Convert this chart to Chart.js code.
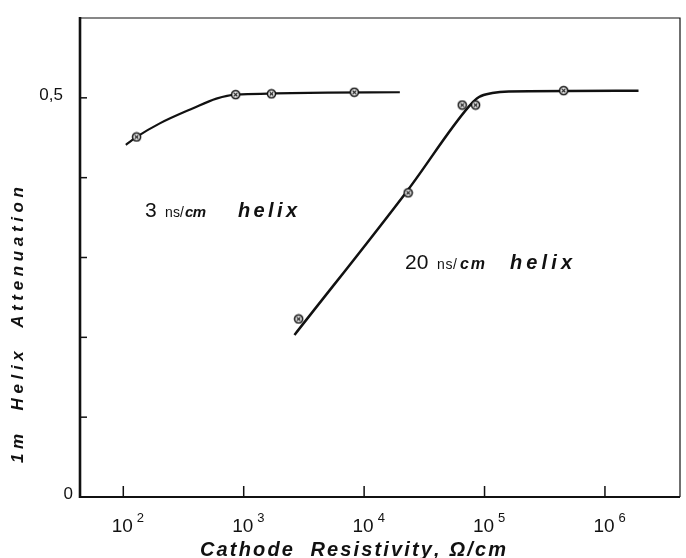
<!DOCTYPE html>
<html>
<head>
<meta charset="utf-8">
<script src="https://cdn.jsdelivr.net/npm/chart.js@4/dist/chart.umd.min.js"></script>
<style>
  html, body { margin: 0; padding: 0; background: #fff; }
  #wrap { width: 686px; height: 558px; }
</style>
</head>
<body>
<div id="wrap"><canvas id="chart" width="686" height="558"></canvas></div>
<script>
// ── ค่าแกน ──
var decades   = [1e2, 1e3, 1e4, 1e5, 1e6];
var decadeExp = ["2", "3", "4", "5", "6"];
var yTickVals = [0.1, 0.2, 0.3, 0.4, 0.5];
var yLabelVals = [0, 0.5];
var yLabelText = ["0", "0,5"];

// ── 3 ns/cm helix ──
var h3X    = [129, 857, 1700, 8280];
var h3Y    = [0.451, 0.504, 0.505, 0.507];
var h3FitX = [105, 129, 201, 380, 593, 857, 19800];
var h3FitY = [0.441, 0.451, 0.468, 0.487, 0.499, 0.504, 0.507];

// ── 20 ns/cm helix ──
var h20X    = [2860, 23200, 65300, 84300, 454000];
var h20Y    = [0.223, 0.381, 0.491, 0.491, 0.509];
var h20FitX = [2640, 23200, 74000, 90000, 116000, 159000, 1900000];
var h20FitY = [0.203, 0.385, 0.489, 0.501, 0.506, 0.508, 0.509];

function pts(xs, ys) {
  return xs.map(function(x, i) { return { x: x, y: ys[i] }; });
}

function makeMarker() {
  var c = document.createElement("canvas");
  c.width = 11; c.height = 11;
  var g = c.getContext("2d");
  g.fillStyle = "#fff"; g.strokeStyle = "#111"; g.lineWidth = 1.6;
  g.beginPath(); g.arc(5.5, 5.5, 4, 0, Math.PI * 2); g.fill(); g.stroke();
  g.lineWidth = 1.2;
  g.beginPath();
  g.moveTo(3.6, 3.6); g.lineTo(7.4, 7.4);
  g.moveTo(7.4, 3.6); g.lineTo(3.6, 7.4);
  g.stroke();
  return c;
}
var marker = makeMarker();

// เขียนข้อความโดยกระจายช่องไฟให้ได้ความกว้างที่ต้องการ
function spacedText(ctx, text, x, y, width) {
  var chars = text.split("");
  var natural = chars.reduce(function(s, ch) { return s + ctx.measureText(ch).width; }, 0);
  var gap = chars.length > 1 ? (width - natural) / (chars.length - 1) : 0;
  var cx = x;
  ctx.textAlign = "left";
  chars.forEach(function(ch) {
    ctx.fillText(ch, cx, y);
    cx += ctx.measureText(ch).width + gap;
  });
}

var SANS = '"Liberation Sans", Arial, sans-serif';

var labels = [
  { y: 217, parts: [
    { t: "3",     f: "21px " + SANS,             x: 145, w: 0 },
    { t: "ns/",   f: "14px " + SANS,             x: 165, w: 19 },
    { t: "cm",    f: "italic bold 15px " + SANS, x: 185, w: 21 },
    { t: "helix", f: "italic bold 20px " + SANS, x: 238, w: 59 }
  ]},
  { y: 269, parts: [
    { t: "20",    f: "21px " + SANS,             x: 405, w: 0 },
    { t: "ns/",   f: "14px " + SANS,             x: 437, w: 20 },
    { t: "cm",    f: "italic bold 16px " + SANS, x: 460, w: 25 },
    { t: "helix", f: "italic bold 20px " + SANS, x: 510, w: 62 }
  ]}
];

var paperPlugin = {
  id: "paper",
  afterDraw: function(chart) {
    var ctx = chart.ctx, a = chart.chartArea;
    var xs = chart.scales.x, ys = chart.scales.y;
    ctx.save();
    ctx.strokeStyle = "#111";
    ctx.fillStyle = "#111";
    ctx.lineCap = "butt";

    // กรอบ
    ctx.lineWidth = 1.2;
    ctx.beginPath();
    ctx.moveTo(a.left, a.top); ctx.lineTo(a.right, a.top); ctx.lineTo(a.right, a.bottom);
    ctx.stroke();
    ctx.lineWidth = 2.6;
    ctx.beginPath(); ctx.moveTo(a.left, a.top - 1); ctx.lineTo(a.left, a.bottom + 1); ctx.stroke();
    ctx.lineWidth = 2;
    ctx.beginPath(); ctx.moveTo(a.left, a.bottom); ctx.lineTo(a.right, a.bottom); ctx.stroke();

    // ขีดแกน y (ด้านใน)
    ctx.lineWidth = 1.5;
    yTickVals.forEach(function(v) {
      var py = ys.getPixelForValue(v);
      ctx.beginPath(); ctx.moveTo(a.left, py); ctx.lineTo(a.left + 7, py); ctx.stroke();
    });
    // ขีดแกน x (ด้านใน)
    decades.forEach(function(v) {
      var px = xs.getPixelForValue(v);
      ctx.beginPath(); ctx.moveTo(px, a.bottom); ctx.lineTo(px, a.bottom - 11); ctx.stroke();
    });

    // ป้ายแกน y
    ctx.textBaseline = "alphabetic";
    ctx.font = "17px " + SANS;
    ctx.textAlign = "right";
    yLabelVals.forEach(function(v, i) {
      var py = ys.getPixelForValue(v);
      var right = v === 0 ? 73 : 63;
      ctx.fillText(yLabelText[i], right, py + 2);
    });

    // ป้ายแกน x : 10^n
    decades.forEach(function(v, i) {
      var px = xs.getPixelForValue(v);
      ctx.font = "19px " + SANS;
      ctx.textAlign = "center";
      ctx.fillText("10", px - 1, 532);
      var w = ctx.measureText("10").width;
      ctx.font = "13px " + SANS;
      ctx.textAlign = "left";
      ctx.fillText(decadeExp[i], px - 1 + w / 2 + 4, 522);
    });

    // ชื่อแกน x
    ctx.font = "italic bold 20px " + SANS;
    spacedText(ctx, "Cathode  Resistivity, \u03A9/cm", 200, 556, 306);

    // ชื่อแกน y
    ctx.save();
    ctx.translate(23, 325);
    ctx.rotate(-Math.PI / 2);
    ctx.font = "italic bold 17px " + SANS;
    spacedText(ctx, "1m  Helix  Attenuation", -138, 0, 276);
    ctx.restore();

    // ป้ายเส้นกราฟ
    labels.forEach(function(l) {
      l.parts.forEach(function(p) {
        ctx.font = p.f;
        if (p.w) spacedText(ctx, p.t, p.x, l.y, p.w);
        else { ctx.textAlign = "left"; ctx.fillText(p.t, p.x, l.y); }
      });
    });
    ctx.restore();
  }
};

new Chart(document.getElementById("chart").getContext("2d"), {
  type: "scatter",
  data: {
    datasets: [
      { label: "3 ns/cm pts", data: pts(h3X, h3Y), showLine: false,
        pointStyle: marker, pointRadius: 5, pointHoverRadius: 5 },
      { label: "20 ns/cm pts", data: pts(h20X, h20Y), showLine: false,
        pointStyle: marker, pointRadius: 5, pointHoverRadius: 5 },
      { label: "3 ns/cm", data: pts(h3FitX, h3FitY), showLine: true,
        borderColor: "#111", borderWidth: 2.2, pointRadius: 0,
        cubicInterpolationMode: "monotone" },
      { label: "20 ns/cm", data: pts(h20FitX, h20FitY), showLine: true,
        borderColor: "#111", borderWidth: 2.5, pointRadius: 0,
        cubicInterpolationMode: "monotone" }
    ]
  },
  options: {
    responsive: false,
    animation: false,
    devicePixelRatio: 1,
    layout: { padding: { left: 0, right: 4, top: 18, bottom: 0 } },
    plugins: { legend: { display: false }, tooltip: { enabled: false } },
    scales: {
      x: {
        type: "logarithmic", min: 43.7, max: 4.2e6,
        ticks: { display: false }, grid: { display: false }, border: { display: false },
        afterFit: function(s) { s.height = 61; }
      },
      y: {
        type: "linear", min: 0, max: 0.6,
        ticks: { display: false }, grid: { display: false }, border: { display: false },
        afterFit: function(s) { s.width = 80; }
      }
    }
  },
  plugins: [paperPlugin]
});
</script>
</body>
</html>
